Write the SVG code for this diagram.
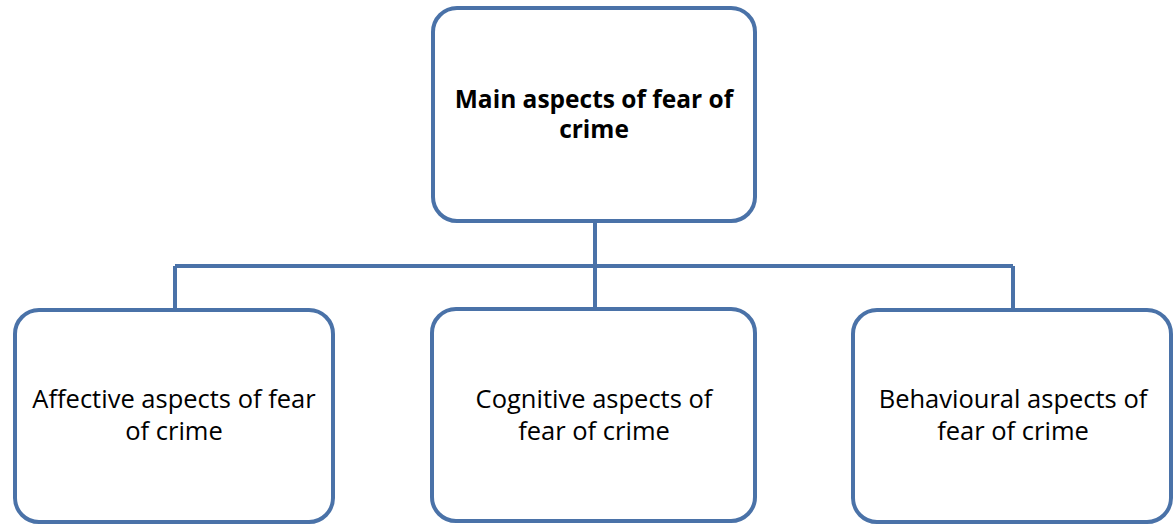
<svg xmlns="http://www.w3.org/2000/svg" width="1174" height="526" viewBox="0 0 1174 526">
<style>
.box{fill:#ffffff;stroke:#4a72a8;stroke-width:4}
.conn{fill:none;stroke:#4a72a8;stroke-width:4}
text{font-family:"Open Sans","Liberation Sans",sans-serif;font-size:25.5px;fill:#000;text-anchor:middle}
.b{font-weight:bold;font-size:24.5px}
</style>
<rect width="1174" height="526" fill="#ffffff"/>
<g id="connectors">
<path class="conn" d="M595 221 V266 M175 266 H1013 M175 266 V309 M595 266 V309 M1013 266 V309"/>
</g>
<g id="node-main">
<rect class="box" x="433" y="8" width="322" height="213" rx="24"/>
<text class="b" x="594" y="108">Main aspects of fear of</text>
<text class="b" x="594" y="138">crime</text>
</g>
<g id="node-affective">
<rect class="box" x="15" y="310" width="318" height="212" rx="24"/>
<text x="174" y="408">Affective aspects of fear</text>
<text x="174" y="440">of crime</text>
</g>
<g id="node-cognitive">
<rect class="box" x="432" y="309" width="323" height="212" rx="24"/>
<text x="594" y="408">Cognitive aspects of</text>
<text x="594" y="440">fear of crime</text>
</g>
<g id="node-behavioural">
<rect class="box" x="853" y="310" width="318" height="212" rx="24"/>
<text x="1013" y="408">Behavioural aspects of</text>
<text x="1013" y="440">fear of crime</text>
</g>
</svg>
